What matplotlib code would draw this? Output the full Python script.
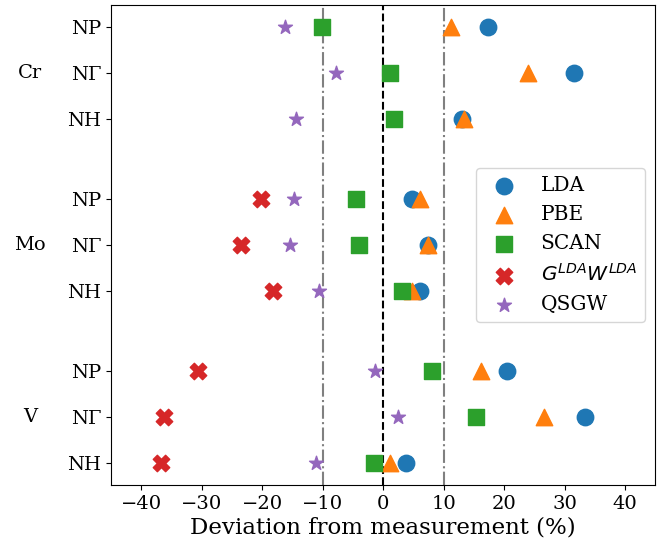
import matplotlib
matplotlib.use('Agg')
import matplotlib.pyplot as plt
import matplotlib.transforms as mtransforms
import numpy as np

plt.rcParams['font.family'] = 'serif'
plt.rcParams['font.serif'] = ['DejaVu Serif']
plt.rcParams['mathtext.fontset'] = 'dejavusans'

# rows top to bottom: Cr NP, NΓ, NH ; Mo NP, NΓ, NH ; V NP, NΓ, NH
elements = ['Cr', 'Mo', 'V']
points = ['NP', 'NΓ', 'NH']

lda = [17.4, 31.6, 13.1, 4.8, 7.4, 6.0, 20.5, 33.4, 3.8]
pbe = [11.2, 24.0, 13.3, 6.0, 7.4, 4.8, 16.2, 26.6, 1.2]
scan = [-10.1, 1.2, 1.7, -4.5, -4.0, 3.1, 8.1, 15.4, -1.5]
glda = [np.nan, np.nan, np.nan, -20.3, -23.5, -18.2, -30.6, -36.2, -36.7]
qsgw = [-16.2, -7.8, -14.5, -14.7, -15.5, -10.7, -1.3, 2.5, -11.1]

# y positions: 1 unit within a group, wider gap between groups
gap = 1.75
ypos = []
for g in range(3):
    for k in range(3):
        ypos.append(-(g * (2 + gap) + k))
ypos = np.array(ypos)

fig = plt.figure(figsize=(6.7, 5.46), dpi=100)
ax = fig.add_axes([0.166, 0.112, 0.812, 0.879])

ax.axvline(0, color='black', linestyle='--', linewidth=1.5, zorder=1)
ax.axvline(-10, color='gray', linestyle='-.', linewidth=1.5, zorder=1)
ax.axvline(10, color='gray', linestyle='-.', linewidth=1.5, zorder=1)

ax.scatter(lda, ypos, s=140, marker='o', color='tab:blue', label='LDA', zorder=3)
ax.scatter(pbe, ypos, s=140, marker='^', color='tab:orange', label='PBE', zorder=3)
ax.scatter(scan, ypos, s=140, marker='s', color='tab:green', label='SCAN', zorder=3)
ax.scatter(glda, ypos, s=140, marker='X', color='tab:red', label='$G^{LDA}W^{LDA}$', zorder=3)
ax.scatter(qsgw, ypos, s=110, marker='*', color='tab:purple', label='QSGW', zorder=3)

ax.set_xlim(-45, 45)
ax.set_ylim(ypos.min() - 0.48, ypos.max() + 0.48)
ax.set_xticks(np.arange(-40, 41, 10))
ax.set_yticks(ypos)
ax.set_yticklabels(points * 3)
ax.tick_params(labelsize=14)
ax.set_xlabel('Deviation from measurement (%)', fontsize=16.5, labelpad=3)

trans = mtransforms.blended_transform_factory(ax.transAxes, ax.transData)
for g, el in enumerate(elements):
    ax.text(-0.149, ypos[3 * g + 1], el, transform=trans, ha='center', va='center', fontsize=14)

ax.legend(loc='center right', fontsize=14.5)

plt.savefig('out.png', dpi=100)
